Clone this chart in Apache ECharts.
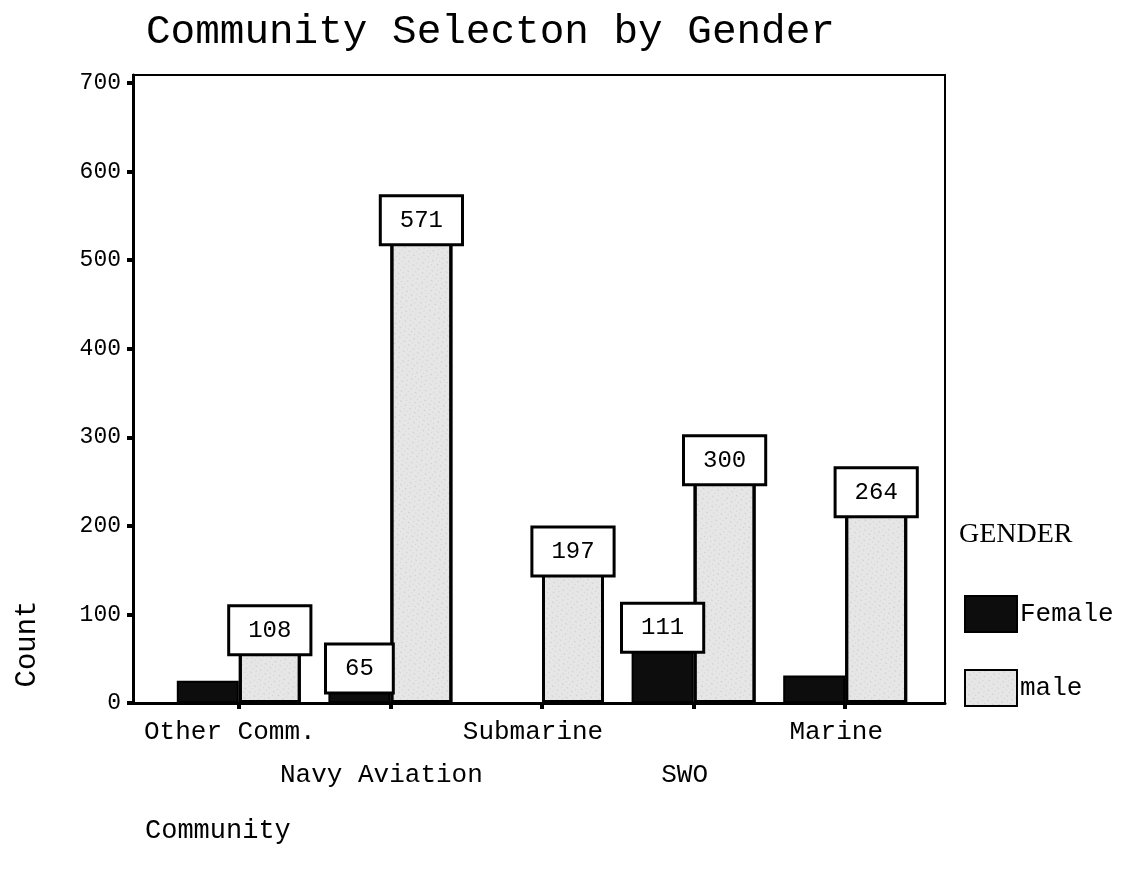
<!DOCTYPE html>
<html>
<head>
<meta charset="utf-8">
<title>Community Selecton by Gender</title>
<script src="https://cdn.jsdelivr.net/npm/echarts@6/dist/echarts.min.js"></script>
<style>
  html, body { margin: 0; padding: 0; background: #fff; }
  #chart { width: 1121px; height: 874px; }
</style>
</head>
<body>
<div id="chart"></div>
<script>
const categories = ['Other Comm.', 'Navy Aviation', 'Submarine', 'SWO', 'Marine']
const femaleCounts = [25, 65, null, 111, 31]
const maleCounts = [108, 571, 197, 300, 264]
// only some of the female bars carry a value box in the original
const femaleLabelled = [false, true, false, true, false]

const yMin = 0
const yMax = 709
const yStep = 100

const mono = '"Liberation Mono", "DejaVu Sans Mono", monospace'

const valueBox = {
  show: true,
  position: 'insideTop',
  distance: 0,
  formatter: '{c}',
  color: '#000',
  fontFamily: mono,
  fontSize: 24,
  lineHeight: 26,
  backgroundColor: '#fff',
  borderColor: '#000',
  borderWidth: 3,
  padding: [10, 18]
}

const chart = echarts.init(document.getElementById('chart'))

chart.setOption({
  animation: false,
  title: [{
    text: 'Community Selecton by Gender',
    left: 141,
    top: 7,
    textStyle: { fontFamily: mono, fontSize: 41, fontWeight: 'normal', color: '#000' }
  }, {
    text: 'Community',
    left: 140,
    top: 812,
    textStyle: { fontFamily: mono, fontSize: 27, fontWeight: 'normal', color: '#000' }
  }, {
    text: 'GENDER',
    left: 954,
    top: 516,
    textStyle: { fontFamily: '"Liberation Serif", "DejaVu Serif", serif', fontSize: 28, fontWeight: 'normal', color: '#000' }
  }],
  graphic: [{
    type: 'text',
    x: 27,
    y: 644,
    rotation: Math.PI / 2,
    style: {
      text: 'Count',
      fill: '#000',
      font: '29px ' + mono,
      textAlign: 'center',
      textVerticalAlign: 'middle'
    }
  }],
  legend: {
    orient: 'vertical',
    left: 959,
    top: 590,
    itemWidth: 52,
    itemHeight: 36,
    itemGap: 36,
    icon: 'rect',
    textStyle: { fontFamily: mono, fontSize: 26, color: '#000', padding: [0, 0, 0, -2] },
    data: ['Female', 'male']
  },
  grid: [
    // outer frame
    { left: 133, right: 176, top: 75, bottom: 171, show: true, borderColor: '#000', borderWidth: 2, backgroundColor: 'transparent' },
    // inner plotting band, narrower than the frame
    { left: 163, right: 200, top: 75, bottom: 171 }
  ],
  xAxis: [{
    gridIndex: 0,
    type: 'value',
    min: 0,
    max: 1,
    axisLine: { show: true, lineStyle: { color: '#000', width: 3 } },
    axisTick: { show: false },
    axisLabel: { show: false },
    splitLine: { show: false }
  }, {
    gridIndex: 1,
    type: 'category',
    data: categories,
    axisLine: { show: false },
    axisTick: { show: true, alignWithLabel: true, length: 6, lineStyle: { color: '#000', width: 4 } },
    axisLabel: {
      color: '#000',
      fontFamily: mono,
      fontSize: 26,
      lineHeight: 43,
      margin: 8,
      interval: 0,
      padding: [0, 18, 0, 0],
      formatter: (v, i) => (i % 2 === 1 ? '\n' + v : v)
    }
  }],
  yAxis: [{
    gridIndex: 0,
    type: 'value',
    min: yMin,
    max: yMax,
    interval: yStep,
    axisLine: { show: true, lineStyle: { color: '#000', width: 3 } },
    axisTick: { show: true, length: 6, lineStyle: { color: '#000', width: 4 } },
    axisLabel: { color: '#000', fontFamily: mono, fontSize: 23, margin: 12, showMaxLabel: false },
    splitLine: { show: false }
  }, {
    gridIndex: 1,
    type: 'value',
    min: yMin,
    max: yMax,
    show: false,
    splitLine: { show: false }
  }],
  series: [{
    name: 'Female',
    type: 'bar',
    xAxisIndex: 1,
    yAxisIndex: 1,
    barWidth: 62,
    barGap: '0%',
    itemStyle: { color: '#0d0d0d', borderColor: '#000', borderWidth: 2 },
    data: femaleCounts.map((v, i) => ({
      value: v === null ? '-' : v,
      label: femaleLabelled[i] ? valueBox : { show: false }
    }))
  }, {
    name: 'male',
    type: 'bar',
    xAxisIndex: 1,
    yAxisIndex: 1,
    barWidth: 62,
    barGap: '0%',
    itemStyle: {
      color: '#e6e6e6',
      borderColor: '#000',
      borderWidth: 3,
      decal: {
        symbol: 'rect',
        symbolSize: 0.5,
        color: 'rgba(0,0,0,0.4)',
        dashArrayX: [[1, 3], [2, 4]],
        dashArrayY: [1, 3],
        rotation: 0.7
      }
    },
    label: valueBox,
    data: maleCounts
  }]
})
</script>
</body>
</html>
